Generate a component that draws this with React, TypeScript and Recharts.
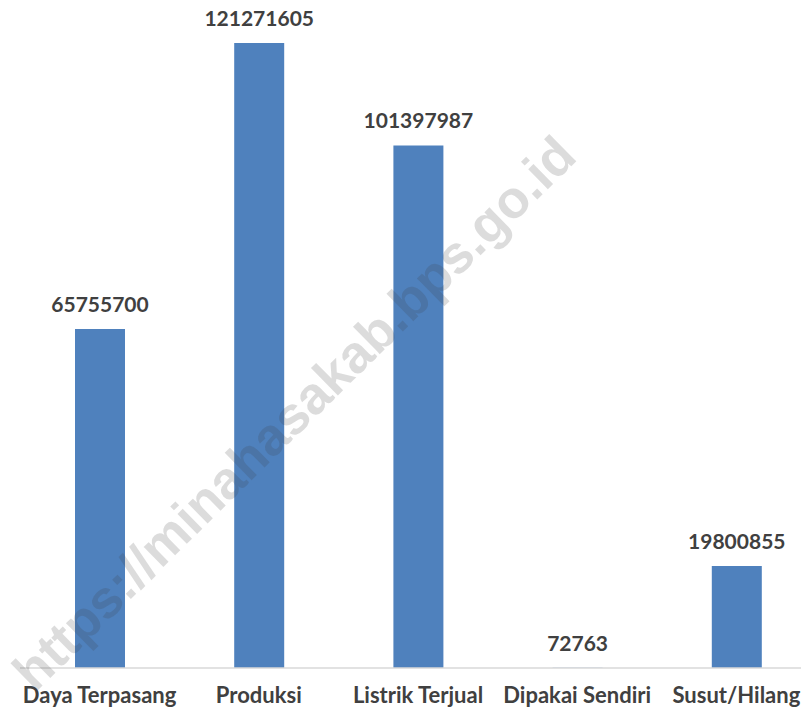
import React from "react";
import { BarChart, Bar, XAxis, YAxis, LabelList } from "recharts";

const categories = ["Daya Terpasang", "Produksi", "Listrik Terjual", "Dipakai Sendiri", "Susut/Hilang"];
const values = [65755700, 121271605, 101397987, 72763, 19800855];
const watermark = "https://minahasakab.bps.go.id";

const data = categories.map((name, i) => ({ name, value: values[i] }));

const FONT = "Lato, 'Open Sans', sans-serif";

const Tick = (props: any) => {
  const { x, y, payload } = props;
  return (
    <text x={x} y={y} dy={29} textAnchor="middle" fill="#404040" fontFamily={FONT} fontWeight={700} fontSize={22}>
      {payload.value}
    </text>
  );
};

export default function App() {
  return (
    <div style={{ position: "relative", width: 809, height: 715, margin: "-8px 0 0 -8px", overflow: "hidden", background: "#fff" }}>
      <BarChart width={816} height={715} data={data} margin={{ top: 43, right: 0, bottom: 0, left: 20 }}>
        <YAxis hide domain={[0, "dataMax"]} />
        <XAxis
          dataKey="name"
          height={47}
          axisLine={{ stroke: "#D9D9D9", strokeWidth: 1.5 }}
          tickLine={false}
          tickSize={6}
          tickMargin={0}
          interval={0}
          tick={<Tick />}
        />
        <Bar dataKey="value" fill="#4F81BD" barSize={50} isAnimationActive={false}>
          <LabelList
            dataKey="value"
            position="top"
            offset={17}
            fill="#404040"
            fontFamily={FONT}
            fontWeight={700}
            fontSize={21}
          />
        </Bar>
      </BarChart>
      <svg width={809} height={715} style={{ position: "absolute", left: 0, top: 0, pointerEvents: "none" }}>
        <text
          x={297}
          y={416}
          textAnchor="middle"
          dominantBaseline="middle"
          transform="rotate(-44.5 297 416)"
          fontFamily="'Liberation Sans', Arial, sans-serif"
          fontWeight={700}
          fontSize={53}
          fill="rgba(60,60,60,0.18)"
        >
          {watermark}
        </text>
      </svg>
    </div>
  );
}
